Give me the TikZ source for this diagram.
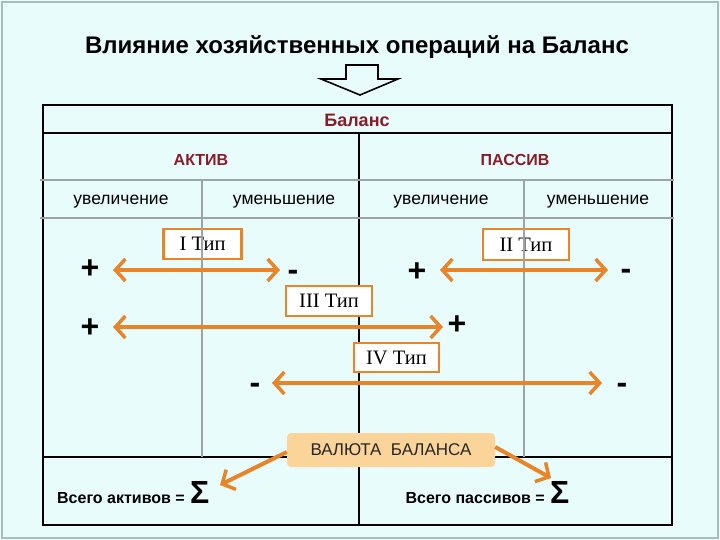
\documentclass[tikz,border=0pt]{standalone}
\usepackage{fontspec}
\setmainfont{Liberation Sans}
\newfontfamily\serifff{Liberation Serif}
\usetikzlibrary{arrows.meta}
\definecolor{bgc}{HTML}{E9FCFC}
\definecolor{framec}{HTML}{A9BDBD}
\definecolor{grayln}{HTML}{9EA4A4}
\definecolor{redt}{HTML}{8A1C2A}
\definecolor{orng}{HTML}{EA8428}
\definecolor{boxfill}{HTML}{FBD49A}
\tikzset{
  x=1pt, y=-1pt,
  tbl/.style={line width=2pt, black},
  gln/.style={line width=2.5pt, grayln},
  hdr/.style={font=\fontsize{16}{16}\selectfont\bfseries, text=redt},
  sub/.style={font=\fontsize{17.5}{17.5}\selectfont},
  sign/.style={font=\fontsize{32}{32}\selectfont\bfseries, inner sep=0pt},
  tipbox/.style={draw=orng, line width=2.5pt, fill=white, text=black, font=\serifff\fontsize{20.5}{20.5}\selectfont, inner sep=0pt},
  oarrow/.style={draw=orng, line width=4pt, {Straight Barb[length=10pt,width=22pt,line width=3.5pt]}-{Straight Barb[length=10pt,width=22pt,line width=3.5pt]}},
  oarrowone/.style={draw=orng, line width=4pt, -{Straight Barb[length=10pt,width=22pt,line width=3.5pt]}},
  sumtxt/.style={font=\fontsize{16}{16}\selectfont\bfseries, anchor=base east, inner sep=0pt},
  sigma/.style={font=\fontsize{32}{32}\selectfont\bfseries, anchor=base west, inner sep=0pt},
}
\begin{document}
\begin{tikzpicture}
\fill[bgc] (0,0) rectangle (720,540);
\useasboundingbox (0,0) rectangle (720,540);
\draw[framec, line width=2.5pt] (2,2) rectangle (718,538);

\node (title) at (357,47) {\fontsize{24}{24}\selectfont\bfseries Влияние хозяйственных операций на Баланс};
\draw[line width=1.6pt] (346,65) -- (378,65) -- (378,79) -- (398,79) -- (360,95) -- (321,79) -- (346,79) -- cycle;

% table
\draw[tbl] (43,105) rectangle (672,525);
\draw[tbl] (43,133) -- (672,133);
\draw[tbl] (359,133) -- (359,525);
\draw[tbl] (43,457) -- (672,457);

\node[hdr, font=\fontsize{18}{18}\selectfont\bfseries] (bal) at (357,120) {Баланс};
\node[hdr] (akt) at (201,160) {АКТИВ};
\node[hdr] (pas) at (515,160) {ПАССИВ};
\node[sub] (u1) at (121,202) {увеличение};
\node[sub] (m1) at (284,202) {уменьшение};
\node[sub] (u2) at (441,202) {увеличение};
\node[sub] (m2) at (598,202) {уменьшение};

% type boxes
\node[tipbox, minimum width=78pt, minimum height=30pt] (t1) at (202.5,244) {I Тип};
\node[tipbox, minimum width=86pt, minimum height=31pt] (t2) at (526,244.5) {II Тип};
\node[tipbox, minimum width=86pt, minimum height=30pt] (t3) at (329,301) {III Тип};
\node[tipbox, minimum width=85pt, minimum height=29pt] (t4) at (396.5,357.5) {IV Тип};

% gray lines
\draw[gln] (40,180) -- (674,180);
\draw[gln] (40,218) -- (674,218);
\draw[gln] (202,180) -- (202,457);
\draw[gln] (524,180) -- (524,457);

% signs
\node[sign] (p1) at (90,269) {+};
\node[sign] (n1) at (293,275) {-};
\node[sign] (p2) at (417,272) {+};
\node[sign] (n2) at (626,274) {-};
\node[sign] (p3) at (90,328) {+};
\node[sign] (p4) at (457,325) {+};
\node[sign] (n3) at (255,388) {-};
\node[sign] (n4) at (622,388) {-};

% arrows
\coordinate (a1l) at (113,270); \coordinate (a1r) at (280,270);
\coordinate (a2l) at (440,270); \coordinate (a2r) at (608,270);
\coordinate (a3l) at (113,327); \coordinate (a3r) at (443,327);
\coordinate (a4l) at (272,383); \coordinate (a4r) at (602,383);
\draw[oarrow] (a1l) -- (a1r);
\draw[oarrow] (a2l) -- (a2r);
\draw[oarrow] (a3l) -- (a3r);
\draw[oarrow] (a4l) -- (a4r);

% currency box
\node[fill=boxfill, rounded corners=4pt, minimum width=208pt, minimum height=34pt, font=\fontsize{17}{17}\selectfont, text=black!85] (val) at (391,450) {ВАЛЮТА\ \ БАЛАНСА};
\coordinate (sl) at (220,485);
\coordinate (sr) at (551,478);
\draw[oarrowone] (val.west) ++(0,2) -- (sl);
\draw[oarrowone] (val.east) ++(0,-3) -- (sr);

% sums
\node[sumtxt] (s1) at (185,503) {Всего активов =};
\node[sigma] (sig1) at ([xshift=5pt]s1.base east) {Σ};
\node[sumtxt] (s2) at (545,503) {Всего пассивов =};
\node[sigma] (sig2) at ([xshift=5pt]s2.base east) {Σ};
\end{tikzpicture}
\end{document}
